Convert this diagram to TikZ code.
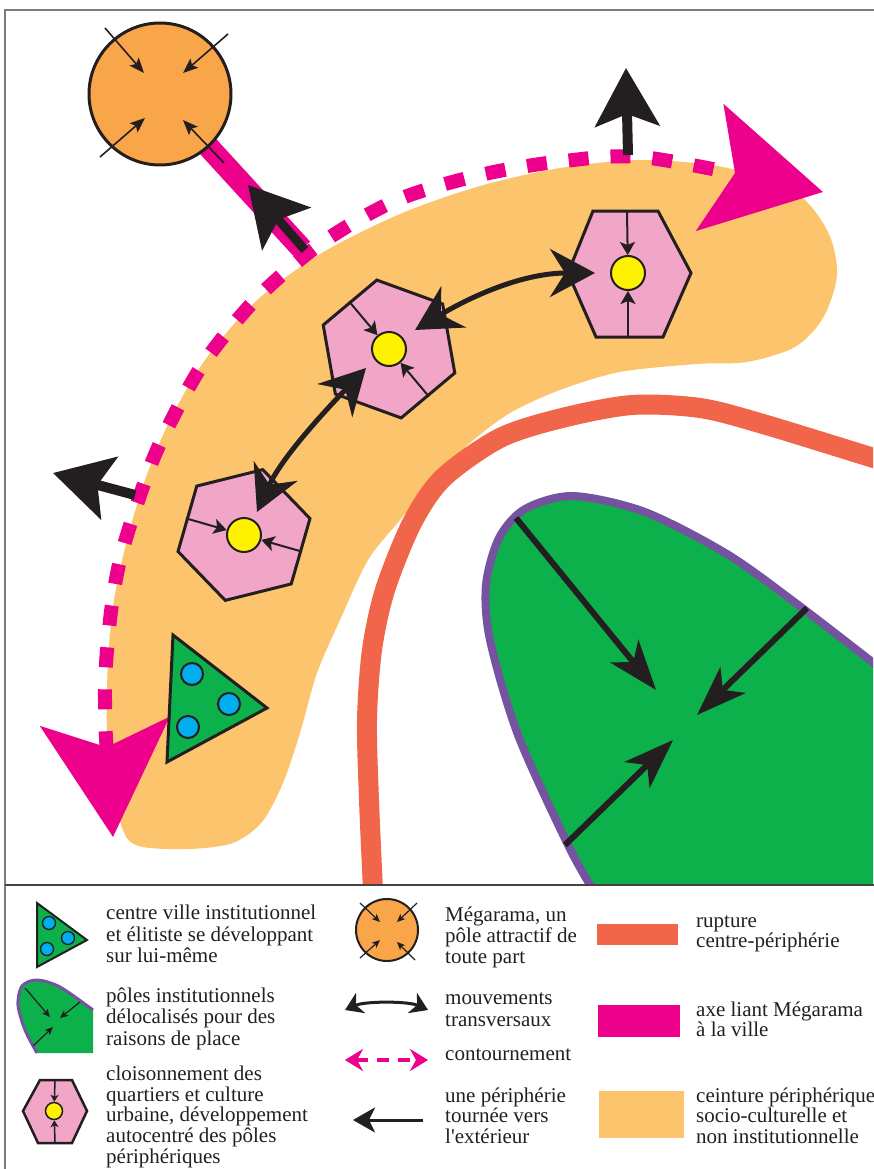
\documentclass[tikz,border=0pt]{standalone}
\usepackage{fontspec}
\setmainfont{Liberation Serif}
\usetikzlibrary{arrows.meta,shapes.geometric}
\definecolor{ink}{RGB}{35,31,32}
\definecolor{beltorange}{RGB}{252,196,108}
\definecolor{megaorange}{RGB}{249,166,75}
\definecolor{axepink}{RGB}{236,0,140}
\definecolor{rupturered}{RGB}{241,102,75}
\definecolor{hexpink}{RGB}{241,165,199}
\definecolor{coreyellow}{RGB}{255,242,0}
\definecolor{poleg}{RGB}{13,177,75}
\definecolor{dotblue}{RGB}{0,174,239}
\definecolor{edgepurple}{RGB}{117,83,160}
\definecolor{framegray}{RGB}{125,125,125}

\begin{document}
\begin{tikzpicture}[x=1pt,y=-1pt,
    hexa/.style={draw=ink,line width=3pt,fill=hexpink,line join=miter},
    core/.style={circle,draw=ink,line width=2pt,fill=coreyellow,minimum size=34pt,inner sep=0pt},
    partition/.style={draw=ink,line width=2pt,-{Stealth[length=13pt,width=15pt,inset=3pt]}},
    link/.style={draw=ink,line width=5pt,{Stealth[length=45pt,width=48pt,inset=15pt]}-{Stealth[length=45pt,width=48pt,inset=15pt]}},
    outward/.style={draw=ink,line width=10pt,-{Stealth[length=58pt,width=64pt,inset=12pt]}},
    inward/.style={draw=ink,line width=6pt,-{Stealth[length=50pt,width=36pt,inset=14pt]}},
    attract/.style={draw=ink,line width=1.6pt,-{Stealth[length=15pt,width=12pt,inset=3pt]}},
    legthin/.style={draw=ink,line width=1.2pt,-{Stealth[length=8pt,width=7pt,inset=2pt]}},
    contour/.style={draw=axepink,line width=14pt,dash pattern=on 20pt off 22pt,
      {Stealth[length=115pt,width=128pt,inset=25pt]}-{Stealth[length=115pt,width=128pt,inset=25pt]}},
    mega/.style={circle,draw=ink,line width=3pt,fill=megaorange,minimum size=142pt,inner sep=0pt},
    dot/.style={circle,draw=ink,line width=2pt,fill=dotblue,minimum size=22pt,inner sep=0pt},
    legtext/.style={anchor=base west,inner sep=0pt,font=\fontsize{21}{21}\selectfont,text=ink}]
  \useasboundingbox (0,0) rectangle (873,1169);

  % map
  \begin{scope}
    \clip (5,10) rectangle (873,885);
    % ceinture
    \fill[beltorange] plot[smooth cycle] coordinates {(125,835) (113,790) (107,730) (108,660) (114,600)
      (127,540) (145,480) (170,420) (205,360) (255,302) (320,254) (400,214) (480,186) (560,168)
      (640,160) (723,167) (795,192) (828,232) (837,275) (823,318) (795,347) (747,362) (697,364)
      (620,372) (560,390) (510,413) (470,443) (433,480) (400,520) (368,560) (340,620) (317,673)
      (300,733) (283,783) (262,822) (233,843) (190,849) (143,847)};
    % rupture
    \draw[rupturered,line width=20pt] plot[smooth] coordinates {(373,890) (369,800) (367,720) (372,650)
      (385,590) (412,523) (443,478) (500,438) (562,418) (632,405) (700,408) (763,424) (880,460)};
    % poles delocalises
    \fill[poleg] plot[smooth] coordinates {(592,888) (568,845) (518,735) (490,640) (486,585) (499,538)
      (525,509) (573,496) (645,512) (727,554) (797,604) (880,668)} -- (880,890) -- cycle;
    \draw[edgepurple,line width=8pt] plot[smooth] coordinates {(592,888) (568,845) (518,735) (490,640)
      (486,585) (499,538) (525,509) (573,496) (645,512) (727,554) (797,604) (880,668)};
    \foreach \i/\a/\b in {1/{516,518}/{656,690},2/{807,608}/{697,715},3/{565,845}/{673,740}}{
      \coordinate (gs\i) at (\a);
      \coordinate (gt\i) at (\b);
      \draw[inward] (gs\i) -- (gt\i);
    }
    % contournement
    \draw[contour] plot[smooth] coordinates {(113,837) (105,700) (110,620) (121,556) (146,478)
      (165,433) (203,364) (257,298) (323,242) (397,200) (480,175) (564,161) (650,158) (823,192)};
    % Megarama et axe
    \coordinate (megac) at (160,94);
    \coordinate (axend) at (302,249);
    \draw[axepink,line width=22pt] (megac) -- (axend);
    \node[mega] (megarama) at (megac) {};
    \foreach \i/\a/\b in {1/{105,28}/{144,73},2/{228,34}/{183,73},3/{100,157}/{145,118},4/{224,163}/{183,120}}{
      \coordinate (ma\i) at (\a);
      \coordinate (mb\i) at (\b);
      \draw[attract] (ma\i) -- (mb\i);
    }
    % vers l'exterieur
    \coordinate (ax0) at (305,250);  \coordinate (ax1) at (248,185);
    \coordinate (up0) at (628,155);  \coordinate (up1) at (626,68);
    \coordinate (lf0) at (135,495);  \coordinate (lf1) at (53,473);
    \draw[outward,line width=9pt] (ax0) -- (ax1);
    \draw[outward] (up0) -- (up1);
    \draw[outward] (lf0) -- (lf1);
    % quartiers
    \draw[hexa] (593,211) -- (658,211) -- (691,273) -- (663,337) -- (596,337) -- (568,273) -- cycle;
    \node[hexa,regular polygon,regular polygon sides=6,minimum size=140pt,inner sep=0pt,
      shape border rotate=40] (h2) at (389,349) {};
    \node[hexa,regular polygon,regular polygon sides=6,minimum size=136pt,inner sep=0pt,
      shape border rotate=14] (h3) at (244,535) {};
    \node[core] (y1) at (628,273) {};
    \node[core] (y2) at (389,349) {};
    \node[core] (y3) at (244,535) {};
    \coordinate (h1n) at (627,212);
    \coordinate (h1s) at (628,336);
    \draw[partition] (h1n) -- (y1);
    \draw[partition] (h1s) -- (y1);
    \draw[partition] (h2.130) -- (y2);
    \draw[partition] (h2.310) -- (y2);
    \draw[partition] (h3.164) -- (y3);
    \draw[partition] (h3.344) -- (y3);
    % mouvements transversaux
    \coordinate (l1a) at (257,512); \coordinate (l1b) at (366,368);
    \coordinate (l2a) at (415,330); \coordinate (l2b) at (595,273);
    \draw[link] (l1a) .. controls (282,457) and (325,411) .. (l1b);
    \draw[link] (l2a) .. controls (475,294) and (525,273) .. (l2b);
    % centre ville
    \draw[ink,line width=3pt,fill=poleg,line join=miter] (173,635) -- (267,708) -- (167,762) -- cycle;
    \node[dot] (b1) at (192,674) {};
    \node[dot] (b2) at (229,704) {};
    \node[dot] (b3) at (188,727) {};
  \end{scope}

  % cadre
  \draw[framegray,line width=1.5pt] (5,1175) -- (5,10) -- (880,10);
  \draw[ink!85,line width=1.5pt] (5,885) -- (880,885);

  % legende
  \draw[ink,line width=2pt,fill=poleg,line join=miter] (37,903) -- (87,940) -- (37,967) -- cycle;
  \foreach \p [count=\k] in {{49,923},{68,938},{47,949}}
    \node[dot,minimum size=13pt,line width=1.3pt] (lb\k) at (\p) {};
  \fill[poleg] plot[smooth] coordinates {(37,1053) (25,1030) (18,1005) (22,986) (37,980) (60,987) (93,1010)}
    -- (93,1053) -- cycle;
  \draw[edgepurple,line width=3pt] plot[smooth] coordinates {(37,1053) (25,1030) (18,1005) (22,986) (37,980)
    (60,987) (93,1010)};
  \foreach \i/\a/\b in {1/{25,988}/{50,1017},2/{80,1002}/{60,1018},3/{33,1046}/{53,1027}}{
    \coordinate (lgs\i) at (\a);
    \coordinate (lgt\i) at (\b);
    \draw[legthin] (lgs\i) -- (lgt\i);
  }
  \draw[hexa,line width=2.5pt] (40,1080) -- (72,1080) -- (87,1111) -- (72,1143) -- (38,1143) -- (23,1111) -- cycle;
  \node[core,minimum size=17pt,line width=1.5pt] (y4) at (54,1111) {};
  \coordinate (h4n) at (55,1081);
  \coordinate (h4s) at (55,1142);
  \draw[partition,line width=1.5pt,-{Stealth[length=7pt,width=8pt,inset=2pt]}] (h4n) -- (y4);
  \draw[partition,line width=1.5pt,-{Stealth[length=7pt,width=8pt,inset=2pt]}] (h4s) -- (y4);

  \node[mega,minimum size=62pt,line width=2pt] (lmega) at (387,930) {};
  \foreach \i/\a/\b in {1/{360,903}/{380,922},2/{417,903}/{397,922},3/{360,958}/{380,940},4/{415,960}/{397,942}}{
    \coordinate (lma\i) at (\a);
    \coordinate (lmb\i) at (\b);
    \draw[legthin] (lma\i) -- (lmb\i);
  }
  \coordinate (lla) at (345,1010); \coordinate (llb) at (428,1010);
  \draw[draw=ink,line width=3pt,{Stealth[length=17pt,width=22pt,inset=5pt]}-{Stealth[length=17pt,width=22pt,inset=5pt]}]
    (lla) .. controls (365,1001) and (408,1001) .. (llb);
  \coordinate (lca) at (345,1060); \coordinate (lcb) at (428,1060);
  \draw[draw=axepink,line width=4pt,dash pattern=on 12pt off 9pt,
    {Stealth[length=18pt,width=22pt,inset=6pt]}-{Stealth[length=18pt,width=22pt,inset=6pt]}] (lca) -- (lcb);
  \coordinate (loa) at (423,1120); \coordinate (lob) at (353,1120);
  \draw[draw=ink,line width=3pt,-{Stealth[length=22pt,width=25pt,inset=6pt]}] (loa) -- (lob);

  \fill[rupturered] (597,924) rectangle (678,945);
  \fill[axepink] (598,1005) rectangle (680,1037);
  \fill[beltorange] (599,1091) rectangle (684,1138);

  \foreach \x/\y/\t [count=\k] in {106/919/centre ville institutionnel,106/941/et élitiste se développant,
      106/962/sur lui-même,106/1002/pôles institutionnels,106/1023/délocalisés pour des,
      106/1045/raisons de place,106/1080/cloisonnement des,106/1101/quartiers et culture,
      106/1121/{urbaine, développement},106/1142/autocentré des pôles,106/1163/périphériques,
      445/921/{Mégarama, un},445/942/pôle attractif de,445/963/toute part,445/1004/mouvements,
      445/1026/transversaux,445/1060/contournement,445/1102/une périphérie,445/1122/tournée vers,
      445/1143/l\textquotesingle extérieur,696/927/rupture,696/947/centre-périphérie,
      696/1016/axe liant Mégarama,696/1036/à la ville,696/1102/ceinture périphérique,
      696/1122/socio-culturelle et,696/1143/non institutionnelle}
    \node[legtext] (lt\k) at (\x,\y) {\t};
\end{tikzpicture}
\end{document}
